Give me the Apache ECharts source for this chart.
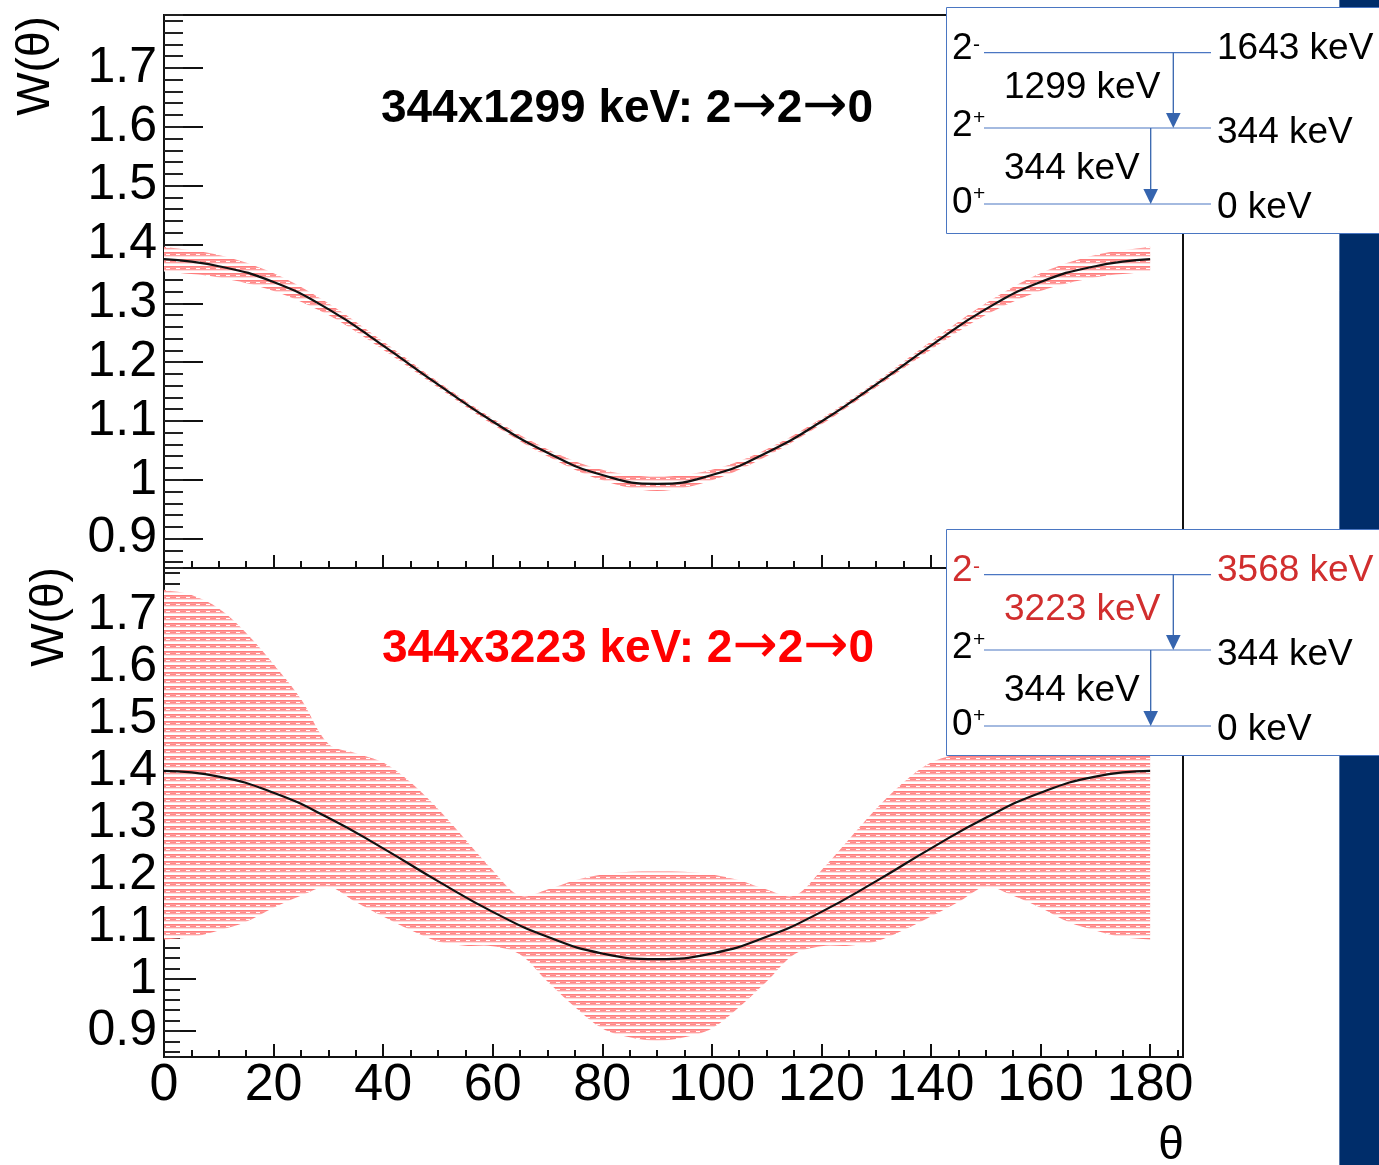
<!DOCTYPE html>
<html><head><meta charset="utf-8">
<script src="https://cdn.jsdelivr.net/npm/echarts@6/dist/echarts.min.js"></script>
<style>html,body{margin:0;padding:0;background:#fff}#c{width:1379px;height:1165px}</style>
</head><body><div id="c"></div>
<script>
// ---------- data ----------
const theta10 = [0,10,20,30,40,50,60,70,80,90,100,110,120,130,140,150,160,170,180];
const theta5 = [0,5,10,15,20,25,30,35,40,45,50,55,60,65,70,75,80,85,90,95,100,105,110,115,120,125,130,135,140,145,150,155,160,165,170,175,180];

// top panel: 344x1299 keV
const topCentral = [1.375,1.363,1.336,1.290,1.228,1.162,1.099,1.046,1.008,0.993,1.008,1.046,1.099,1.162,1.228,1.290,1.336,1.363,1.375];
const topUpper   = [1.396,1.382,1.351,1.300,1.235,1.167,1.104,1.052,1.017,1.005,1.017,1.052,1.104,1.167,1.235,1.300,1.351,1.382,1.396];
const topLower   = [1.354,1.344,1.321,1.280,1.221,1.157,1.094,1.040,0.999,0.981,0.999,1.040,1.094,1.157,1.221,1.280,1.321,1.344,1.354];

// bottom panel: 344x3223 keV
const botCentral = [1.400,1.389,1.358,1.310,1.251,1.188,1.129,1.081,1.049,1.038,1.049,1.081,1.129,1.188,1.251,1.310,1.358,1.389,1.400];
const botUpper = [1.748,1.738,1.712,1.665,1.605,1.538,1.452,1.434,1.416,1.378,1.327,1.268,1.209,1.160,1.172,1.190,1.201,1.206,1.207,
                  1.206,1.201,1.190,1.172,1.160,1.209,1.268,1.327,1.378,1.416,1.434,1.452,1.538,1.605,1.665,1.712,1.738,1.748];
const botLower = [1.076,1.080,1.093,1.110,1.137,1.160,1.177,1.148,1.120,1.094,1.072,1.064,1.063,1.047,0.995,0.946,0.905,0.888,0.881,
                  0.888,0.905,0.946,0.995,1.047,1.063,1.064,1.072,1.094,1.120,1.148,1.177,1.160,1.137,1.110,1.093,1.080,1.076];

const titleParts = [['344x1299 keV: 2','2','0'], ['344x3223 keV: 2','2','0']];
const schemes = [
  {spins:['2','2','0'], parity:['-','+','+'], levels:['1643 keV','344 keV','0 keV'], gammas:['1299 keV','344 keV'], red:false},
  {spins:['2','2','0'], parity:['-','+','+'], levels:['3568 keV','344 keV','0 keV'], gammas:['3223 keV','344 keV'], red:true}
];
const yRange = [0.85, 1.79];
const xRange = [0, 186];

// ---------- helpers ----------
const FONT = '"Liberation Sans", Arial, sans-serif';
function pairs(xs, ys){ return xs.map((x,i)=>[x, ys[i]]); }

function makePattern(){
  const c = document.createElement('canvas');
  c.width = 10; c.height = 7;
  const g = c.getContext('2d');
  g.fillStyle = '#ff7e7e'; g.fillRect(0,0,10,1);
  g.fillStyle = '#ff9a9a'; g.fillRect(0,1,10,1);
  g.fillStyle = '#ff8a8a'; g.fillRect(0,2,6,1);
  g.fillStyle = '#ffffff'; g.fillRect(6,2,4,1);
  g.fillStyle = '#ffa0a0'; g.fillRect(0,3,10,1);
  g.fillStyle = '#ffdcdc'; g.fillRect(0,4,10,1);
  g.fillStyle = '#ffffff'; g.fillRect(0,5,10,2);
  return c;
}
const patt = {image: makePattern(), repeat: 'repeat'};

function bandSeries(xi, th, up, lo){
  return {
    type:'custom', coordinateSystem:'cartesian2d', xAxisIndex:xi, yAxisIndex:xi,
    data:[[90,1.2]], z:1, silent:true,
    renderItem: function(params, api){
      const U = th.map((t,i)=>api.coord([t, up[i]]));
      const L = th.map((t,i)=>api.coord([t, lo[i]])).reverse();
      const pts = [U[0]].concat(U, [U[U.length-1], L[0]], L, [L[L.length-1]]);
      return {type:'polygon', shape:{points:pts, smooth:0.35}, style:{fill:patt, stroke:null}};
    }
  };
}

function xMajor(gi){
  return {type:'value', gridIndex:gi, position:'bottom', min:xRange[0], max:xRange[1], interval:20,
    axisLine:{show:true, onZero:false, lineStyle:{color:'#111', width:2}},
    axisTick:{show:true, inside:true, length:13, lineStyle:{color:'#111', width:2}},
    axisLabel:{show: gi===1, showMaxLabel:false, margin:3, color:'#000', fontSize:52, fontFamily:FONT},
    splitLine:{show:false}};
}
function xMinor(gi){
  return {type:'value', gridIndex:gi, position:'bottom', min:xRange[0], max:xRange[1], interval:5,
    axisLine:{show:false, onZero:false},
    axisTick:{show:true, inside:true, length:7, lineStyle:{color:'#111', width:2}},
    axisLabel:{show:false}, splitLine:{show:false}};
}
function yMajor(gi, len){
  return {type:'value', gridIndex:gi, position:'left', min:yRange[0], max:yRange[1], splitNumber:9,
    axisLine:{show:true, onZero:false, lineStyle:{color:'#111', width:2}},
    axisTick:{show:true, inside:true, length:len, lineStyle:{color:'#111', width:2}},
    axisLabel:{show:true, showMinLabel:false, showMaxLabel:false, margin:7, color:'#000', fontSize:50, fontFamily:FONT,
      formatter: v => String(parseFloat(Number(v).toFixed(2)))},
    splitLine:{show:false}};
}
function yMinor(gi, len){
  return {type:'value', gridIndex:gi, position:'left', min:yRange[0], max:yRange[1], splitNumber:47,
    axisLine:{show:false, onZero:false},
    axisTick:{show:true, inside:true, length:len, lineStyle:{color:'#222', width:2}},
    axisLabel:{show:false}, splitLine:{show:false}};
}
function centralLine(xi, data){
  return {type:'line', xAxisIndex:xi, yAxisIndex:xi, data:data, smooth:0.5, symbol:'none', z:5, silent:true,
    lineStyle:{color:'#111', width:2.2}};
}

// ---------- graphics ----------
const graphics = [];
function txt(x, y, text, size, color, opts){
  opts = opts || {};
  graphics.push({type:'text', x:x, y:y, rotation:opts.rotation||0, z:opts.z||20, silent:true,
    style:{text:text, x:0, y:0, fill:color, font:(opts.bold?'bold ':'')+size+'px '+FONT,
      align:opts.align||'left', textAlign:opts.align||'left', verticalAlign:'middle', textVerticalAlign:'middle'}});
}
function richTitle(x, y, parts, color){
  graphics.push({type:'text', x:x, y:y, z:6, silent:true,
    style:{text:'{t|'+parts[0]+'}{a|\u2192}{t|'+parts[1]+'}{a|\u2192}{t|'+parts[2]+'}',
      x:0, y:0, align:'center', textAlign:'center', verticalAlign:'middle', textVerticalAlign:'middle',
      rich:{
        t:{font:'bold 46px '+FONT, fill:color, verticalAlign:'middle'},
        a:{font:'54px "DejaVu Sans", sans-serif', fill:color, verticalAlign:'middle', padding:[0,0,2,0]}
      }}});
}
// dark slide bar
graphics.push({type:'rect', shape:{x:1339.5, y:-2, width:45, height:1170}, style:{fill:'#002d6a', stroke:'#5577aa', lineWidth:1}, z:8, silent:true});

const blue = '#4a76c2', arrowBlue = '#3564ae';
schemes.forEach((s, k)=>{
  const dy = k*522;
  const red = '#d12e2e';
  graphics.push({type:'rect', shape:{x:946.5, y:7.5+dy, width:460, height:226}, style:{fill:'#fff', stroke:blue, lineWidth:1}, z:10, silent:true});
  const lineY = [52.7+dy, 128+dy, 204+dy];
  const spinY = [49+dy, 126+dy, 202.5+dy];
  const parY = [45+dy, 118+dy, 194+dy];
  const levY = [49+dy, 132.5+dy, 208+dy];
  lineY.forEach(y=>graphics.push({type:'line', shape:{x1:984, y1:y, x2:1211, y2:y}, style:{stroke:blue, lineWidth:1.2}, z:11, silent:true}));
  s.spins.forEach((t,i)=>{
    const col = (s.red && i===0) ? red : '#000';
    txt(952, spinY[i], t, 37, col);
    txt(973, parY[i], s.parity[i], 21, col);
  });
  s.levels.forEach((t,i)=>txt(1217, levY[i], t, 37, (s.red && i===0) ? red : '#000'));
  txt(1004, 87.5+dy, s.gammas[0], 37, s.red ? red : '#000');
  txt(1004, 169+dy, s.gammas[1], 37, '#000');
  // arrows
  [[1173.3, lineY[0], lineY[1]], [1150.7, lineY[1], lineY[2]]].forEach(a=>{
    graphics.push({type:'line', shape:{x1:a[0], y1:a[1], x2:a[0], y2:a[2]-14}, style:{stroke:arrowBlue, lineWidth:1.3}, z:12, silent:true});
    graphics.push({type:'polygon', shape:{points:[[a[0]-7.3,a[2]-15],[a[0]+7.3,a[2]-15],[a[0],a[2]]]}, style:{fill:arrowBlue}, z:12, silent:true});
  });
});
// titles
richTitle(627, 109, titleParts[0], '#000');
richTitle(628, 649, titleParts[1], '#ff0000');
// axis titles
txt(36, 66, 'W(\u03b8)', 46, '#000', {rotation:Math.PI/2, align:'center'});
txt(50, 617, 'W(\u03b8)', 46, '#000', {rotation:Math.PI/2, align:'center'});
txt(1171, 1146, '\u03b8', 46, '#000', {align:'center'});

// ---------- chart ----------
const chart = echarts.init(document.getElementById('c'), null, {renderer:'canvas'});
chart.setOption({
  animation:false,
  backgroundColor:'#fff',
  grid:[
    {left:164, top:15, width:1019, height:553, show:true, borderColor:'#111', borderWidth:2, containLabel:false},
    {left:164, top:568, width:1019, height:489, show:true, borderColor:'#111', borderWidth:2, containLabel:false}
  ],
  xAxis:[xMajor(0), xMinor(0), xMajor(1), xMinor(1)],
  yAxis:[yMajor(0, 39), yMinor(0, 19), yMajor(1, 32), yMinor(1, 16)],
  series:[
    bandSeries(0, theta10, topUpper, topLower),
    centralLine(0, pairs(theta10, topCentral)),
    bandSeries(2, theta5, botUpper, botLower),
    centralLine(2, pairs(theta10, botCentral))
  ],
  graphic:{elements:graphics}
});
</script>
</body></html>
